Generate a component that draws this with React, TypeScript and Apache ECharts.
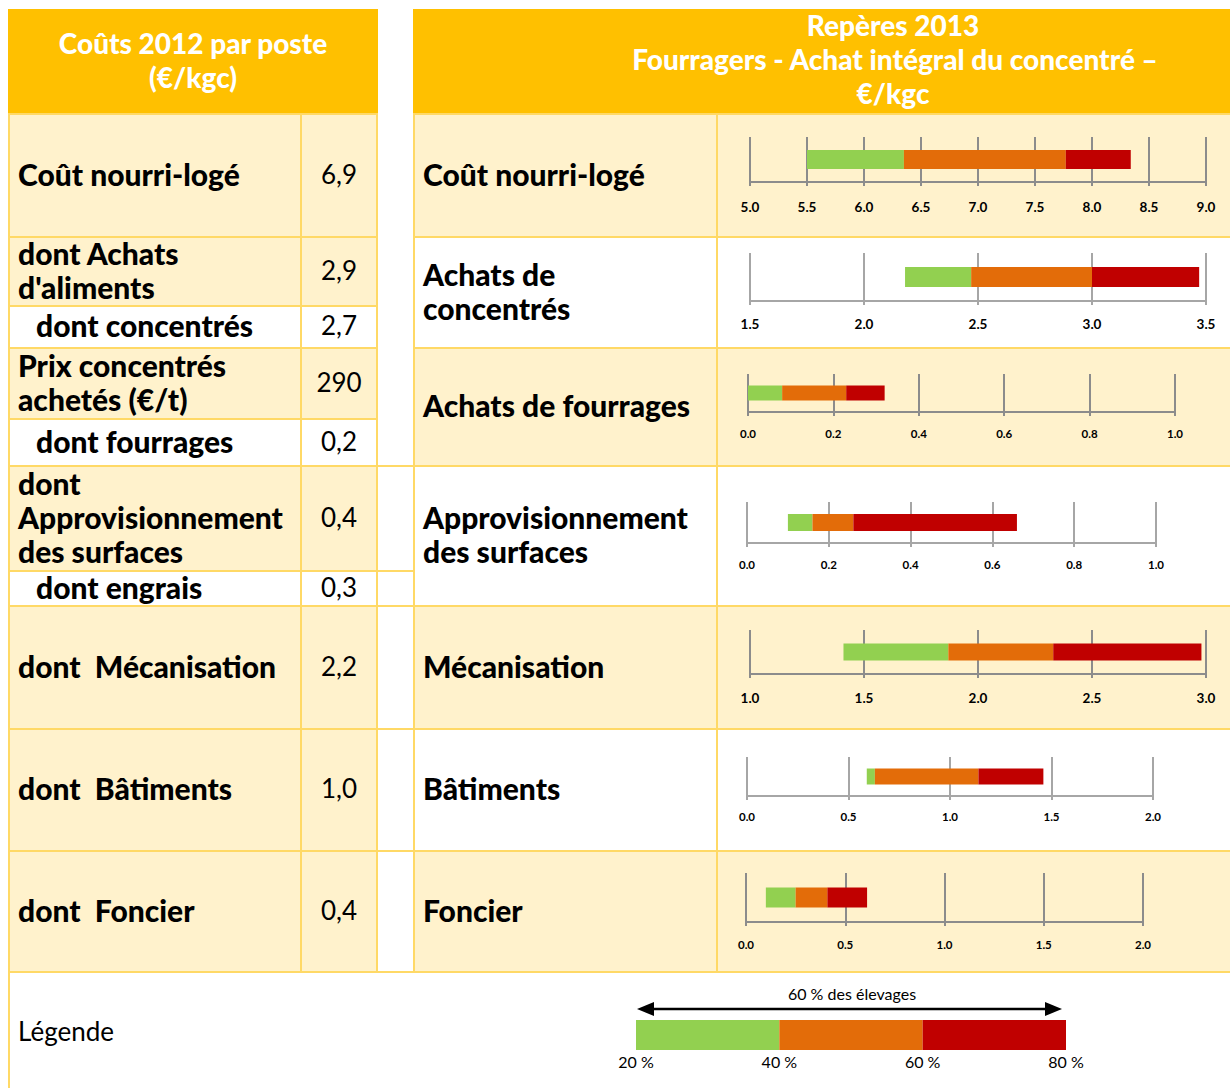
import React, { useEffect, useRef } from "react";
import * as echarts from "echarts";

// ---------- DATA ----------
const leftHeader = ["Coûts 2012 par poste", "(€/kgc)"];
const rightHeader = ["Repères 2013", "Fourragers - Achat intégral du concentré –", "€/kgc"];

const leftItems = [
  "Coût nourri-logé",
  "dont Achats\nd'aliments",
  "dont concentrés",
  "Prix concentrés\nachetés (€/t)",
  "dont fourrages",
  "dont\nApprovisionnement\ndes surfaces",
  "dont engrais",
  "dont  Mécanisation",
  "dont  Bâtiments",
  "dont  Foncier",
];
const leftValues = ["6,9", "2,9", "2,7", "290", "0,2", "0,4", "0,3", "2,2", "1,0", "0,4"];

const rightItems = [
  "Coût nourri-logé",
  "Achats de\nconcentrés",
  "Achats de fourrages",
  "Approvisionnement\ndes surfaces",
  "Mécanisation",
  "Bâtiments",
  "Foncier",
];

// quantiles (€/kgc): 20 %, 40 %, 60 %, 80 %
const q20 = [5.5, 2.18, 0.0, 0.1, 1.41, 0.59, 0.1];
const q40 = [6.35, 2.47, 0.08, 0.16, 1.87, 0.63, 0.25];
const q60 = [7.77, 3.0, 0.23, 0.26, 2.33, 1.14, 0.41];
const q80 = [8.34, 3.47, 0.32, 0.66, 2.98, 1.46, 0.61];

const axisMin = [5, 1.5, 0, 0, 1, 0, 0];
const axisMax = [9, 3.5, 1, 1, 3, 2, 2];
const axisStep = [0.5, 0.5, 0.2, 0.2, 0.5, 0.5, 0.5];

const legendBreaks = [20, 40, 60, 80];
const legendTitle = "60 % des élevages";
const legendLabel = "Légende";

// ---------- STYLE / LAYOUT ----------
const HEADER = "#FFC000";
const CREAM = "#FFF2CC";
const WHITE = "#FFFFFF";
const BORDER = "#FFD966";
const GREEN = "#92D050";
const ORANGE = "#E36C09";
const RED = "#C00000";
const FONT = "Lato, 'Noto Sans', sans-serif";
const BOLD = "900";
const TEXT_DY = -2;

const leftRowEdges = [114, 237, 306, 348, 419, 466, 571, 606, 729, 851, 972];
const leftIndent = [0, 0, 1, 0, 1, 0, 1, 0, 0, 0];
const leftFill = [CREAM, CREAM, WHITE, CREAM, WHITE, CREAM, WHITE, CREAM, CREAM, CREAM];
const rightRowEdges = [114, 237, 348, 466, 606, 729, 851, 972];
const rightFill = [CREAM, WHITE, CREAM, WHITE, CREAM, WHITE, CREAM];
const gapRowEdges = [466, 571, 606, 729, 851, 972];

const chartBoxes = [
  { left: 750, top: 137, width: 456, height: 45, bar: 19, font: 13.5, margin: 18 },
  { left: 750, top: 253, width: 456, height: 48, bar: 20, font: 13.5, margin: 16 },
  { left: 748, top: 374, width: 427, height: 38, bar: 15, font: 11.5, margin: 15 },
  { left: 747, top: 502, width: 409, height: 41, bar: 17, font: 11.5, margin: 15 },
  { left: 750, top: 630, width: 456, height: 44, bar: 17, font: 13.5, margin: 17 },
  { left: 747, top: 757, width: 406, height: 39, bar: 16, font: 11.5, margin: 14 },
  { left: 746, top: 873, width: 397, height: 49, bar: 20, font: 11.5, margin: 16 },
];

function cell(x: number, y: number, w: number, h: number, fill: string, stroke = true) {
  return {
    type: "rect",
    z: 0,
    shape: { x, y, width: w, height: h },
    style: { fill, stroke: stroke ? BORDER : fill, lineWidth: 2 },
  };
}

function txt(x: number, y: number, text: string, opts: any = {}) {
  return {
    type: "text",
    z: 20,
    x,
    y: y + TEXT_DY,
    style: {
      text,
      fill: opts.fill || "#000",
      font: `${opts.weight || BOLD} ${opts.size || 30}px ${FONT}`,
      align: opts.align || "left",
      verticalAlign: "middle",
      lineHeight: opts.lh || 34,
    },
  };
}

export default function App() {
  const ref = useRef<HTMLDivElement>(null);

  useEffect(() => {
    if (!ref.current) return;
    const chart = echarts.init(ref.current, undefined, { renderer: "svg" });

    const graphics: any[] = [];
    // headers
    graphics.push(cell(9, 10, 368, 104, HEADER, false));
    graphics.push(cell(414, 10, 816, 104, HEADER, false));
    graphics.push(txt(193, 45, leftHeader[0], { fill: "#fff", align: "center", size: 28 }));
    graphics.push(txt(193, 79, leftHeader[1], { fill: "#fff", align: "center", size: 28 }));
    graphics.push(txt(893, 27, rightHeader[0], { fill: "#fff", align: "center", size: 28 }));
    graphics.push(txt(895, 61, rightHeader[1], { fill: "#fff", align: "center", size: 28 }));
    graphics.push(txt(893, 95, rightHeader[2], { fill: "#fff", align: "center", size: 28 }));

    // left table
    leftItems.forEach((label, i) => {
      const y0 = leftRowEdges[i];
      const y1 = leftRowEdges[i + 1];
      const h = y1 - y0;
      const fill = leftFill[i];
      graphics.push(cell(9, y0, 292, h, fill));
      graphics.push(cell(301, y0, 76, h, fill));
      graphics.push(txt(leftIndent[i] ? 36 : 18, (y0 + y1) / 2, label));
      graphics.push(txt(339, (y0 + y1) / 2, leftValues[i], { weight: "normal", align: "center", size: 26 }));
    });
    // gap column
    for (let i = 0; i < gapRowEdges.length - 1; i++) {
      graphics.push(cell(377, gapRowEdges[i], 37, gapRowEdges[i + 1] - gapRowEdges[i], WHITE));
    }
    // right table
    rightItems.forEach((label, i) => {
      const y0 = rightRowEdges[i];
      const y1 = rightRowEdges[i + 1];
      const h = y1 - y0;
      const fill = rightFill[i];
      graphics.push(cell(414, y0, 303, h, fill));
      graphics.push(cell(717, y0, 514, h, fill));
      graphics.push(txt(423, (y0 + y1) / 2, label));
    });
    // legend row
    graphics.push(cell(9, 972, 1222, 118, WHITE));
    graphics.push(txt(18, 1033, legendLabel, { weight: "normal", size: 26 }));
    graphics.push(txt(852, 995, legendTitle, { weight: "normal", size: 16, align: "center" }));
    graphics.push({
      type: "line",
      z: 20,
      shape: { x1: 650, y1: 1009, x2: 1050, y2: 1009 },
      style: { stroke: "#000", lineWidth: 2.5 },
    });
    graphics.push({
      type: "polygon",
      z: 20,
      shape: { points: [[637, 1009], [654, 1002], [654, 1016]] },
      style: { fill: "#000" },
    });
    graphics.push({
      type: "polygon",
      z: 20,
      shape: { points: [[1062, 1009], [1045, 1002], [1045, 1016]] },
      style: { fill: "#000" },
    });

    const grids: any[] = [];
    const xAxes: any[] = [];
    const yAxes: any[] = [];
    const series: any[] = [];

    chartBoxes.forEach((b, i) => {
      const gridColor = rightFill[i] === CREAM ? "#8C8C8C" : "#A6A6A6";
      grids.push({ left: b.left, top: b.top, width: b.width, height: b.height, containLabel: false, z: 5 });
      xAxes.push({
        type: "value",
        gridIndex: i,
        min: axisMin[i],
        max: axisMax[i],
        interval: axisStep[i],
        z: 5,
        axisLine: { show: true, lineStyle: { color: gridColor, width: 2 } },
        axisTick: { show: true, length: 4, lineStyle: { color: gridColor, width: 2 } },
        splitLine: { show: true, lineStyle: { color: gridColor, width: 2 } },
        axisLabel: {
          margin: b.margin,
          color: "#000",
          fontWeight: "bold",
          fontSize: b.font,
          fontFamily: FONT,
          formatter: (v: number) => v.toFixed(1),
        },
      });
      yAxes.push({ type: "category", gridIndex: i, data: [rightItems[i]], show: false });
      const parts = [
        { v: q20[i], c: "transparent" },
        { v: q40[i] - q20[i], c: GREEN },
        { v: q60[i] - q40[i], c: ORANGE },
        { v: q80[i] - q60[i], c: RED },
      ];
      parts.forEach((p) => {
        series.push({
          type: "bar",
          xAxisIndex: i,
          yAxisIndex: i,
          stack: "s" + i,
          barWidth: b.bar,
          z: 6,
          clip: true,
          silent: true,
          itemStyle: { color: p.c },
          data: [p.v],
        });
      });
    });

    // legend bar
    const li = chartBoxes.length;
    grids.push({ left: 636, top: 1020, width: 430, height: 30, z: 5 });
    xAxes.push({
      type: "value",
      gridIndex: li,
      min: legendBreaks[0],
      max: legendBreaks[legendBreaks.length - 1],
      interval: legendBreaks[1] - legendBreaks[0],
      axisLine: { show: false },
      axisTick: { show: false },
      splitLine: { show: false },
      axisLabel: {
        margin: 3,
        color: "#000",
        fontSize: 16,
        fontFamily: FONT,
        formatter: (v: number) => `${v} %`,
      },
    });
    yAxes.push({ type: "category", gridIndex: li, data: ["légende"], show: false });
    const legendParts = [
      { v: legendBreaks[0], c: "transparent" },
      { v: legendBreaks[1] - legendBreaks[0], c: GREEN },
      { v: legendBreaks[2] - legendBreaks[1], c: ORANGE },
      { v: legendBreaks[3] - legendBreaks[2], c: RED },
    ];
    legendParts.forEach((p) => {
      series.push({
        type: "bar",
        xAxisIndex: li,
        yAxisIndex: li,
        stack: "legend",
        barWidth: 30,
        z: 6,
        clip: true,
        silent: true,
        itemStyle: { color: p.c },
        data: [p.v],
      });
    });

    chart.setOption({
      animation: false,
      backgroundColor: "#fff",
      grid: grids,
      xAxis: xAxes,
      yAxis: yAxes,
      series,
      graphic: { elements: graphics },
    });

    return () => chart.dispose();
  }, []);

  return (
    <div
      ref={ref}
      style={{ position: "absolute", left: 0, top: 0, width: 1230, height: 1088 }}
    />
  );
}
